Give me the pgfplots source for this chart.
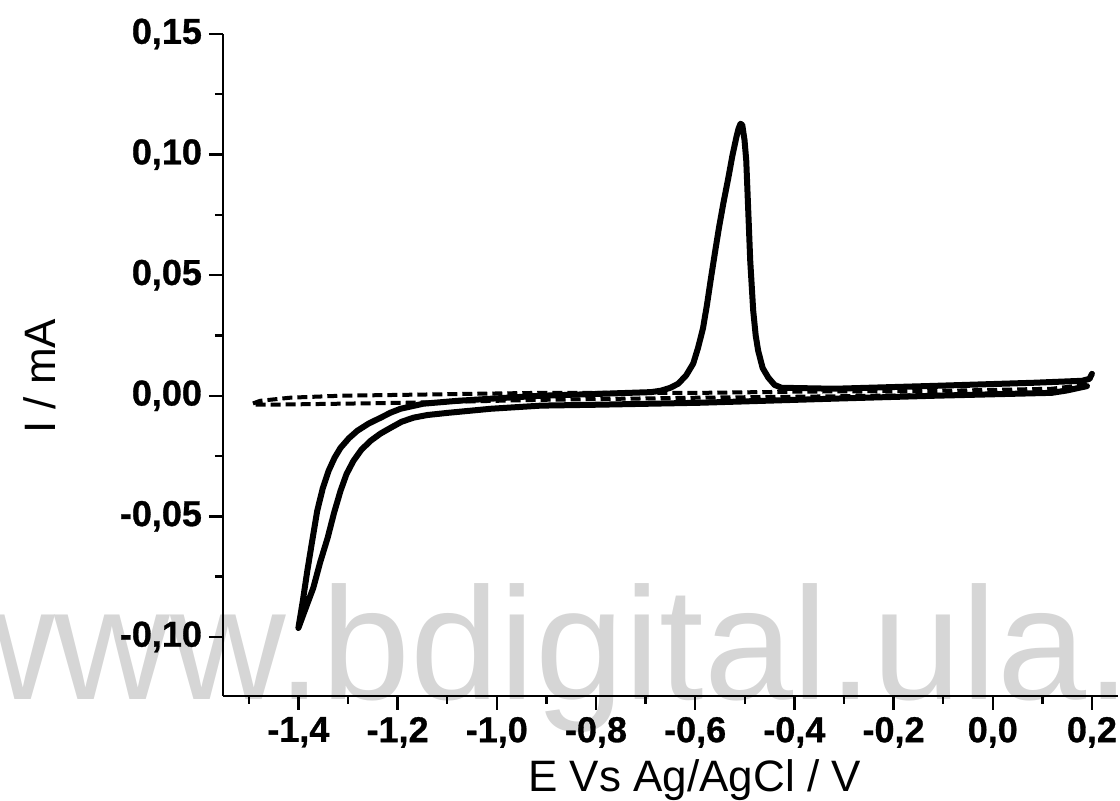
\documentclass[border=0pt]{standalone}
\usepackage{pgfplots}
\pgfplotsset{compat=1.18}
\usepackage{fontspec}
\setmainfont{Liberation Sans}
\newfontfamily\tickfont[FakeBold=0.8]{Liberation Sans Bold}
\pgfdeclarelayer{background}
\pgfsetlayers{background,main}
\begin{document}
\begin{tikzpicture}
\begin{axis}[
  scale only axis,
  width=447.5pt, height=331pt,
  xmin=-1.552, xmax=0.2525,
  ymin=-0.1245, ymax=0.15,
  axis x line=bottom, axis y line=left,
  axis line style={-, line width=1.4pt},
  tick align=outside,
  xtick={-1.4,-1.2,-1.0,-0.8,-0.6,-0.4,-0.2,0.0,0.2},
  minor xtick={-1.5,-1.3,-1.1,-0.9,-0.7,-0.5,-0.3,-0.1,0.1},
  ytick={-0.10,-0.05,0,0.05,0.10,0.15},
  minor ytick={-0.075,-0.025,0.025,0.075,0.125},
  major tick length=7pt, minor tick length=4pt,
  every tick/.style={black, line width=1.2pt},
  /pgf/number format/assume math mode=true,
  xticklabel style={font=\fontsize{18}{20}\selectfont\tickfont, /pgf/number format/.cd, fixed, fixed zerofill, precision=1, use comma},
  yticklabel style={font=\fontsize{18}{20}\selectfont\tickfont, /pgf/number format/.cd, fixed, fixed zerofill, precision=2, use comma},
  scaled y ticks=false, scaled x ticks=false,
  xlabel={E Vs Ag/AgCl / V},
  ylabel={I / mA},
  xlabel style={font=\fontsize{22}{24}\selectfont, at={(axis description cs:0.527,-0.127)}, anchor=center},
  ylabel style={font=\fontsize{22}{24}\selectfont, at={(axis description cs:-0.2045,0.483)}, anchor=center},
  clip=false,
]
\coordinate (ll) at (rel axis cs:0,0);
\coordinate (ur) at (rel axis cs:1,1);
% dashed (blank) voltammogram
\addplot[black, line width=2pt, dash pattern=on 5pt off 2.5pt, line join=round] coordinates {
(0.190,0.0046) (0.119,0.0029) (-0.083,0.0021) (-0.386,0.0017) (-0.588,0.0012)
(-0.911,0.0012) (-1.047,0.0008) (-1.180,0.0004) (-1.315,0.0000) (-1.416,-0.0008)
(-1.477,-0.0021) (-1.493,-0.0033) (-1.493,-0.0037) (-1.451,-0.0037) (-1.315,-0.0033)
(-1.180,-0.0029) (-0.911,-0.0017) (-0.588,-0.0008) (-0.386,-0.0004) (-0.083,0.0004)
(0.119,0.0012) (0.190,0.0037)
};
% solid voltammogram
\addplot[black, line width=3pt, line join=round, line cap=round] coordinates {
(0.190,0.0040) (0.150,0.0022) (0.119,0.0012) (-0.117,0.0000) (-0.319,-0.0012) (-0.588,-0.0029)
(-0.790,-0.0037) (-0.911,-0.0041) (-1.012,-0.0054) (-1.099,-0.0071) (-1.140,-0.0080)
(-1.168,-0.0091) (-1.192,-0.0108) (-1.214,-0.0133) (-1.2345,-0.0157) (-1.2545,-0.0187)
(-1.273,-0.0224) (-1.289,-0.0270) (-1.303,-0.0325) (-1.315,-0.0394) (-1.328,-0.0485)
(-1.341,-0.0589) (-1.356,-0.0690) (-1.370,-0.0797) (-1.386,-0.0885) (-1.400,-0.0963)
(-1.391,-0.0850) (-1.382,-0.0726) (-1.372,-0.0600) (-1.362,-0.0477) (-1.351,-0.0385)
(-1.339,-0.0311) (-1.327,-0.0257) (-1.315,-0.0216) (-1.298,-0.0176) (-1.281,-0.0145)
(-1.258,-0.0115) (-1.234,-0.0091) (-1.214,-0.0070) (-1.194,-0.0054) (-1.148,-0.0033)
(-1.079,-0.0021) (-0.978,-0.0008) (-0.911,0.0000) (-0.790,0.0008) (-0.689,0.0015)
(-0.669,0.0021) (-0.650,0.0033) (-0.634,0.0050) (-0.618,0.0085) (-0.604,0.0133)
(-0.594,0.0200) (-0.584,0.0282) (-0.576,0.0380) (-0.568,0.0490) (-0.560,0.0595)
(-0.552,0.0697) (-0.543,0.0800) (-0.533,0.0905) (-0.525,0.0995) (-0.517,0.1071)
(-0.5125,0.1108) (-0.5085,0.1128) (-0.5050,0.1122) (-0.5005,0.1060) (-0.497,0.0975)
(-0.493,0.0768) (-0.489,0.0560) (-0.483,0.0353) (-0.478,0.0250) (-0.473,0.0187)
(-0.464,0.0115) (-0.4525,0.0075) (-0.440,0.0045) (-0.426,0.0033) (-0.319,0.0029) (-0.117,0.0041)
(0.085,0.0054) (0.180,0.0062) (0.195,0.0070) (0.200,0.0091)
};
\end{axis}
\begin{pgfonlayer}{background}
\node[overlay, anchor=base west, inner sep=0pt, text=black!16, font=\fontsize{80}{80}\selectfont]
  at ([shift={(-142pt,-2pt)}]ll) {www.bdigital.ula.};
\end{pgfonlayer}
\pgfresetboundingbox
\path[use as bounding box] ([shift={(-111.5pt,-52.5pt)}]ll) rectangle ([shift={(1pt,17pt)}]ur);
\end{tikzpicture}
\end{document}
